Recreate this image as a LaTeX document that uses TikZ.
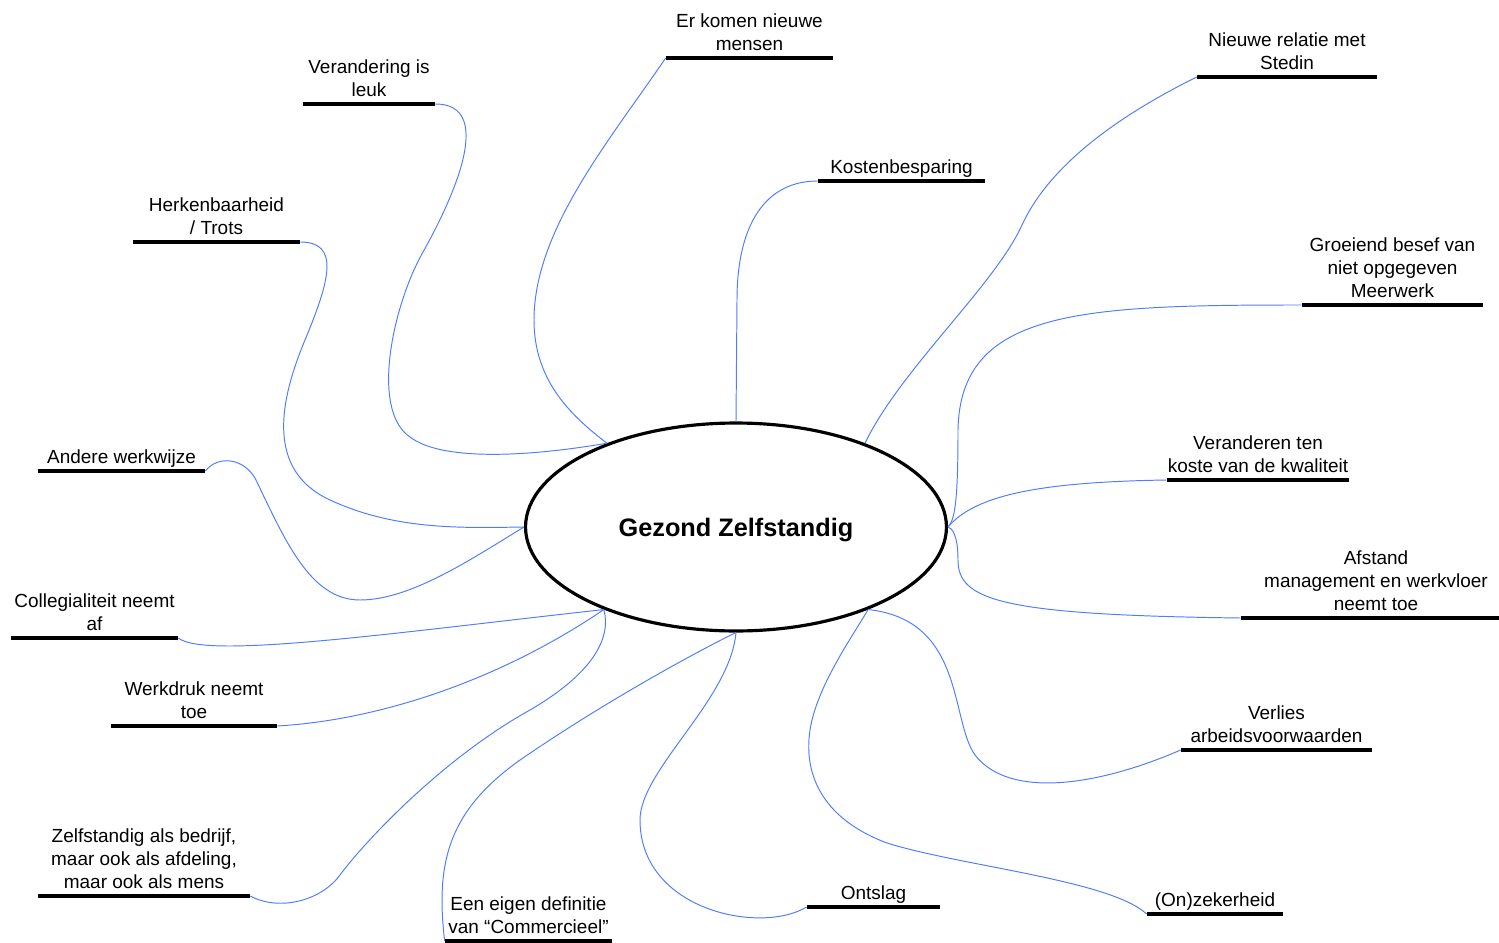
\documentclass[tikz,border=0pt]{standalone}
\usepackage{fontspec}
\setmainfont{Liberation Sans}
\usepackage{xcolor}
\usetikzlibrary{shapes.geometric}

\definecolor{linkblue}{RGB}{77,124,255}

\begin{document}
\begin{tikzpicture}[
  x=0.02cm, y=-0.02cm,
  hub/.style={draw, ellipse, line width=1.8pt, inner sep=0pt, minimum width=8.42cm, minimum height=4.16cm, text depth=0pt, font=\fontsize{14.4}{17}\selectfont\bfseries},
  topic/.style={anchor=south, align=center, inner xsep=0pt, inner ysep=0pt, text depth=4pt, font=\fontsize{10.8}{13.1}\selectfont},
  uline/.style={line width=1.8pt},
  link/.style={draw=linkblue, line width=0.55pt}
]
\useasboundingbox (0,0) rectangle (1499,943);

% Central idea
\node[hub] (gz) at (736,527) {Gezond Zelfstandig};

% Topics, upper half
\node[topic, minimum width=3.34cm] (komen) at (749.5,58) {Er komen nieuwe\\mensen};
\node[topic, minimum width=2.64cm] (leuk) at (369,104) {Verandering is\\leuk};
\node[topic, minimum width=3.34cm] (trots) at (216.5,242) {Herkenbaarheid\\/ Trots};
\node[topic, minimum width=3.34cm] (werkwijze) at (121.5,471) {Andere werkwijze};
\node[topic, minimum width=3.34cm] (kosten) at (901.5,181) {Kostenbesparing};
\node[topic, minimum width=3.6cm] (stedin) at (1287,77) {Nieuwe relatie met\\Stedin};
\node[topic, minimum width=3.62cm] (meerwerk) at (1392.5,305) {Groeiend besef van\\niet opgegeven\\Meerwerk};
\node[topic, minimum width=3.64cm] (kwaliteit) at (1258,480) {Veranderen ten\\koste van de kwaliteit};

% Topics, lower half
\node[topic, minimum width=5.4cm] (afstand) at (1376,618) {Afstand\\management en werkvloer\\neemt toe};
\node[topic, minimum width=3.82cm] (verlies) at (1276.5,750) {Verlies\\arbeidsvoorwaarden};
\node[topic, minimum width=2.72cm] (zeker) at (1215,914) {(On)zekerheid};
\node[topic, minimum width=2.66cm] (ontslag) at (873.5,907) {Ontslag};
\node[topic, minimum width=3.34cm] (commerc) at (528.5,941) {Een eigen definitie\\van “Commercieel”};
\node[topic, minimum width=4.24cm] (zelfst) at (144,896) {Zelfstandig als bedrijf,\\maar ook als afdeling,\\maar ook als mens};
\node[topic, minimum width=3.32cm] (werkdruk) at (194,726) {Werkdruk neemt\\toe};
\node[topic, minimum width=3.34cm] (colleg) at (94.5,638) {Collegialiteit neemt\\af};

% Connectors to the ellipse
\draw[link] (komen.south west) .. controls (610,140) and (534,230) .. (534,320) .. controls (534,380) and (570,415) .. (gz.147);
\draw[link] (leuk.south east) .. controls (495,104) and (455,195) .. (423,252) .. controls (393,305) and (370,410) .. (410,437) .. controls (440,460) and (520,458) .. (gz.147);
\draw[link] (trots.south east) .. controls (340,242) and (330,280) .. (305,340) .. controls (280,400) and (265,470) .. (330,500) .. controls (395,530) and (460,528) .. (gz.west);
\draw[link] (werkwijze.south east) .. controls (218,455) and (243,458) .. (255,478) .. controls (285,540) and (310,600) .. (360,600) .. controls (410,600) and (470,560) .. (gz.west);
\draw[link] (kosten.south west) .. controls (765,181) and (737,225) .. (737,300) -- (gz.north);
\draw[link] (stedin.south west) .. controls (1100,125) and (1045,175) .. (1022,225) .. controls (995,285) and (900,370) .. (gz.33);
\draw[link] (meerwerk.south west) .. controls (1080,305) and (960,310) .. (958,430) .. controls (958,500) and (955,520) .. (gz.east);
\draw[link] (kwaliteit.south west) .. controls (1040,482) and (975,495) .. (gz.east);
\draw[link] (afstand.south west) .. controls (1000,615) and (958,600) .. (958,560) .. controls (958,535) and (952,528) .. (gz.east);
\draw[link] (verlies.south west) .. controls (1100,785) and (1010,800) .. (975,755) .. controls (950,720) and (965,620) .. (gz.328);
\draw[link] (zeker.south west) .. controls (1110,880) and (960,866) .. (887,843) .. controls (820,818) and (800,770) .. (812,720) .. controls (822,680) and (850,640) .. (gz.328);
\draw[link] (ontslag.south west) .. controls (760,935) and (640,910) .. (640,820) .. controls (640,770) and (730,700) .. (gz.south);
\draw[link] (commerc.south west) .. controls (435,860) and (450,810) .. (520,760) .. controls (600,705) and (690,655) .. (gz.south);
\draw[link] (zelfst.south east) .. controls (280,912) and (322,900) .. (340,875) .. controls (362,845) and (440,760) .. (530,710) .. controls (590,675) and (612,640) .. (gz.212);
\draw[link] (werkdruk.south east) .. controls (380,720) and (500,680) .. (gz.212);
\draw[link] (colleg.south east) .. controls (205,660) and (400,632) .. (gz.212);

% Underlines
\foreach \t in {komen,leuk,trots,werkwijze,kosten,stedin,meerwerk,kwaliteit,afstand,verlies,zeker,ontslag,commerc,zelfst,werkdruk,colleg}
  \draw[uline] (\t.south west) -- (\t.south east);

\end{tikzpicture}
\end{document}
